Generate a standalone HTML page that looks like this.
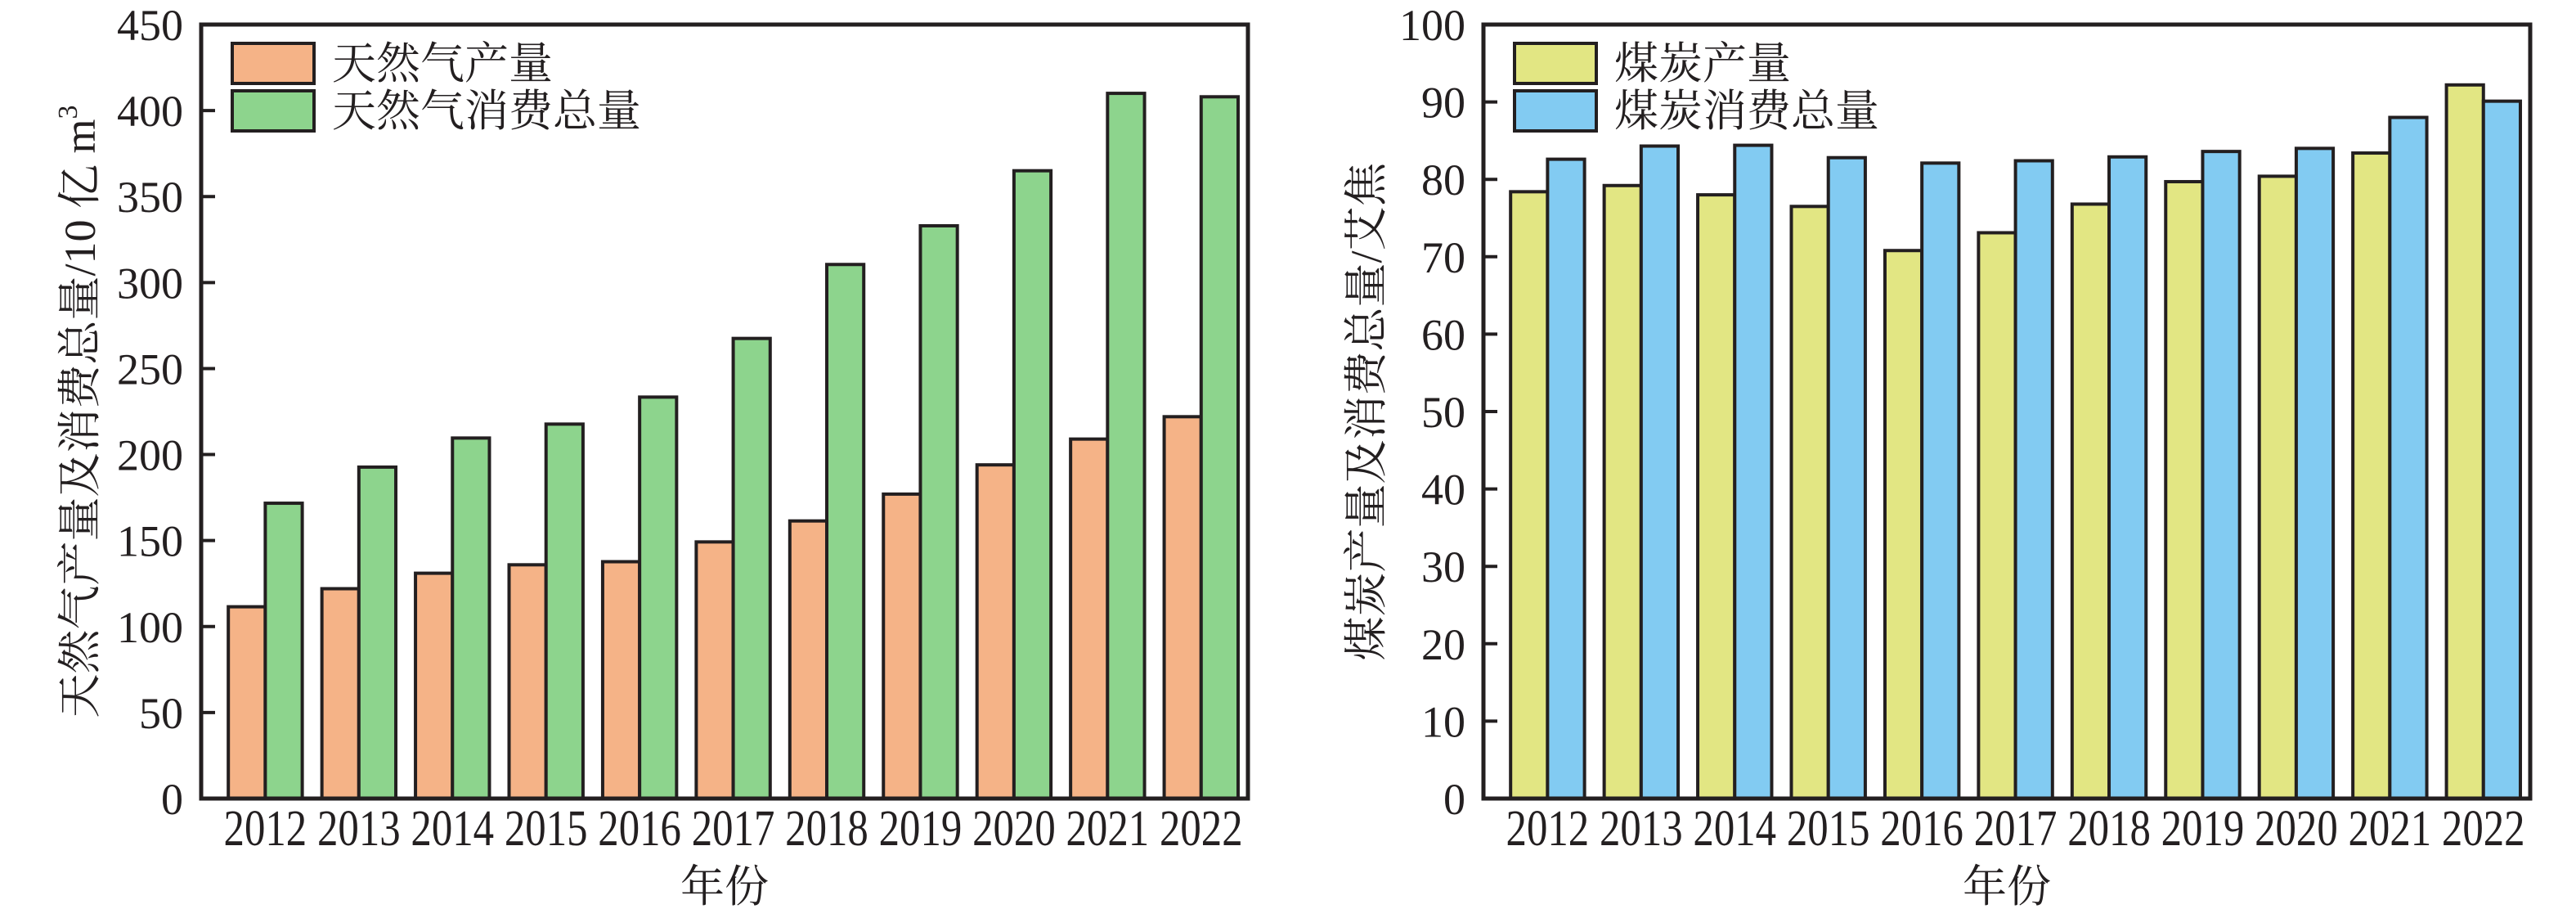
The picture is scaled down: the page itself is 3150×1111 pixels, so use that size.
<!DOCTYPE html>
<html><head><meta charset="utf-8"><style>
html,body{margin:0;padding:0;background:#fff;}
svg{display:block;}
text{fill:#231f20;}
.tick{font-family:"Liberation Serif","Noto Serif CJK SC",serif;font-size:54px;}
.cjk{font-family:"Liberation Serif","Noto Serif CJK SC",serif;font-size:54px;}
</style></head><body>
<svg id="chart" width="3150" height="1111" viewBox="0 0 3150 1111" xmlns="http://www.w3.org/2000/svg"></svg>
<script>
const years = ['2012','2013','2014','2015','2016','2017','2018','2019','2020','2021','2022'];
const gasProduction = [111.5,122,131,135.9,137.7,149.2,161.4,177,194,209,222];
const gasConsumption = [171.7,192.7,209.6,217.7,233.4,267.5,310.5,333,365,410,408];
const coalProduction = [78.4,79.2,78.0,76.5,70.8,73.1,76.8,79.7,80.4,83.4,92.2];
const coalConsumption = [82.6,84.3,84.4,82.8,82.1,82.4,82.9,83.6,84.0,88.0,90.1];
const gasTicks = [0,50,100,150,200,250,300,350,400,450];
const coalTicks = [0,10,20,30,40,50,60,70,80,90,100];

const NS='http://www.w3.org/2000/svg';
const svg=document.getElementById('chart');
function mk(tag,attrs,parent){const e=document.createElementNS(NS,tag);for(const k in attrs)e.setAttribute(k,attrs[k]);(parent||svg).appendChild(e);return e;}

function panel(o){
  const g=mk('g',{});
  
  
  const L=o.left,R=o.right,T=30,B=976;
  const x=v=>L+(v+0.685)/11.185*(R-L);
  const y=v=>B-(v/o.max)*(B-T);
  const bw=0.395;
  for(let i=0;i<years.length;i++){
    const r1=mk('rect',{x:x(i-bw),y:y(o.s1[i]),width:x(i)-x(i-bw),height:B-y(o.s1[i]),fill:o.c1,stroke:'#231f20','stroke-width':4},g);
    
    
    const r2=mk('rect',{x:x(i),y:y(o.s2[i]),width:x(i+bw)-x(i),height:B-y(o.s2[i]),fill:o.c2,stroke:'#231f20','stroke-width':4},g);
    
    
    const t=mk('text',{x:x(i),y:1033,'text-anchor':'middle',class:'tick',transform:'translate('+x(i)+',0) scale(0.82,1) translate('+(-x(i))+',0)'},g);
    
    
    t.setAttribute('style','font-size:62px');
    t.textContent=years[i];
  }
  o.ticks.forEach(v=>{
    const tl=mk('line',{x1:L,x2:L+17,y1:y(v),y2:y(v),stroke:'#231f20','stroke-width':4},g);
    
    
    const tt=mk('text',{x:L-22,y:y(v)+19,'text-anchor':'end',class:'tick'},g);
    
    
    tt.textContent=v;
  });
  const f=mk('rect',{x:L,y:T,width:R-L,height:B-T,fill:'none',stroke:'#231f20','stroke-width':5},g);
  
  
  // legend
  [[o.c1,o.l1,77],[o.c2,o.l2,135]].forEach((e,j)=>{
    const lb=mk('rect',{x:L+38,y:e[2]-24,width:100,height:49,fill:e[0],stroke:'#231f20','stroke-width':4},g);
    
    
    const lt=mk('text',{x:L+160,y:e[2]+19,class:'cjk'},g);
    
    
    lt.textContent=e[1];
  });
  const yt=mk('text',{x:0,y:0,'text-anchor':'middle',class:'cjk',transform:'translate('+(o.titleX+18)+',503) rotate(-90)'},g);
  
  
  yt.innerHTML=o.ytitle;
  const xt=mk('text',{x:(L+R)/2,y:1102,'text-anchor':'middle',class:'cjk'},g);
  
  
  xt.textContent='年份';
}
panel({name:'gas-chart',left:246,right:1526,max:450,s1:gasProduction,s2:gasConsumption,c1:'#f5b387',c2:'#8dd48d',k1:'gas-production',k2:'gas-consumption',l1:'天然气产量',l2:'天然气消费总量',ticks:gasTicks,titleX:98,ytitle:'天然气产量及消费总量/10 亿 m<tspan dy="-22" font-size="34">3</tspan>'});
panel({name:'coal-chart',left:1814,right:3094,max:100,s1:coalProduction,s2:coalConsumption,c1:'#e2e683',c2:'#82cbf2',k1:'coal-production',k2:'coal-consumption',l1:'煤炭产量',l2:'煤炭消费总量',ticks:coalTicks,titleX:1671,ytitle:'煤炭产量及消费总量/艾焦'});
</script>
</body></html>
